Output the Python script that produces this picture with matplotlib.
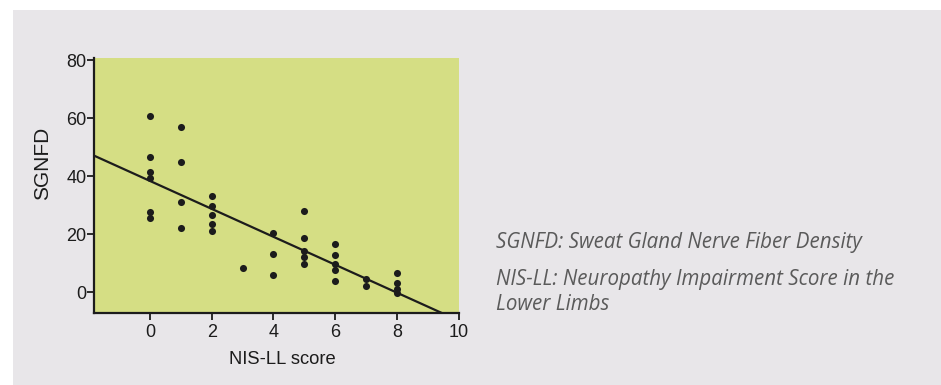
import numpy as np
import matplotlib
matplotlib.use('Agg')
import matplotlib.pyplot as plt
from matplotlib.patches import Rectangle

# 数据：NIS-LL 分数 与 SGNFD
nis_ll = [0, 0, 0, 0, 0, 0,
          1, 1, 1, 1,
          2, 2, 2, 2, 2,
          3,
          4, 4, 4,
          5, 5, 5, 5, 5,
          6, 6, 6, 6, 6,
          7, 7,
          8, 8, 8, 8]
sgnfd = [60.8, 46.5, 41.4, 39.2, 27.7, 25.4,
         56.8, 44.8, 31.1, 22.1,
         33.1, 29.6, 26.6, 23.5, 21.2,
         8.2,
         20.3, 13.1, 6.0,
         28.1, 18.6, 14.2, 12.1, 9.7,
         16.5, 12.9, 9.8, 7.7, 3.7,
         4.6, 2.0,
         6.6, 3.3, 1.2, -0.3]

# 回归线参数
fit_intercept = 38.3
fit_slope = -4.81

x_ticks = [0, 2, 4, 6, 8, 10]
y_ticks = [0, 20, 40, 60, 80]

bg_gray = '#e8e6e9'
green = '#d5de84'
ink = '#1c1c1c'

fig = plt.figure(figsize=(9.41, 3.85), dpi=100)
fig.patch.set_facecolor('white')
# 灰色底板（放在坐标轴下面）
fig.patches.append(Rectangle((13 / 941, 0), 1, 1 - 10 / 385, transform=fig.transFigure,
                             facecolor=bg_gray, edgecolor='none', zorder=-10))

ax = fig.add_axes([94 / 941, 1 - 313 / 385, (458.5 - 94) / 941, (313 - 58) / 385])
ax.set_zorder(1)
ax.set_facecolor(green)
ax.set_xlim(-1.82, 10)
ax.set_ylim(-7.2, 80.7)

xl = np.array(ax.get_xlim())
ax.plot(xl, fit_intercept + fit_slope * xl, color=ink, lw=1.6, zorder=2)
ax.scatter(nis_ll, sgnfd, s=26, color=ink, zorder=3, linewidths=0)

for side in ['top', 'right']:
    ax.spines[side].set_visible(False)
for side in ['left', 'bottom']:
    ax.spines[side].set_linewidth(1.6)
    ax.spines[side].set_color(ink)

font = 'Liberation Sans'
ax.set_xticks(x_ticks)
ax.set_yticks(y_ticks)
ax.tick_params(axis='both', direction='out', length=5, width=1.3, color=ink,
               labelsize=13, labelcolor=ink)
ax.tick_params(axis='y', pad=0.5)
ax.tick_params(axis='x', pad=3)
for lab in ax.get_xticklabels() + ax.get_yticklabels():
    lab.set_family(font)

ax.set_xlabel('NIS-LL score', fontsize=13.2, family=font, color=ink)
ax.xaxis.set_label_coords(0.518, -0.148)
ax.set_ylabel('SGNFD', fontsize=15, family=font, color=ink)
ax.yaxis.set_label_coords(-0.115, 0.588)

# 右侧注释文字
note_kw = dict(fontsize=14.8, family='Open Sans', style='italic', color='#5a5a5a',
               transform=fig.transFigure, ha='left', va='baseline')
fig.text(496 / 941, 1 - 248 / 385, 'SGNFD: Sweat Gland Nerve Fiber Density', **note_kw)
fig.text(496 / 941, 1 - 285 / 385, 'NIS-LL: Neuropathy Impairment Score in the', **note_kw)
fig.text(496 / 941, 1 - 310 / 385, 'Lower Limbs', **note_kw)

fig.savefig('out.png', dpi=100, facecolor=fig.get_facecolor())
